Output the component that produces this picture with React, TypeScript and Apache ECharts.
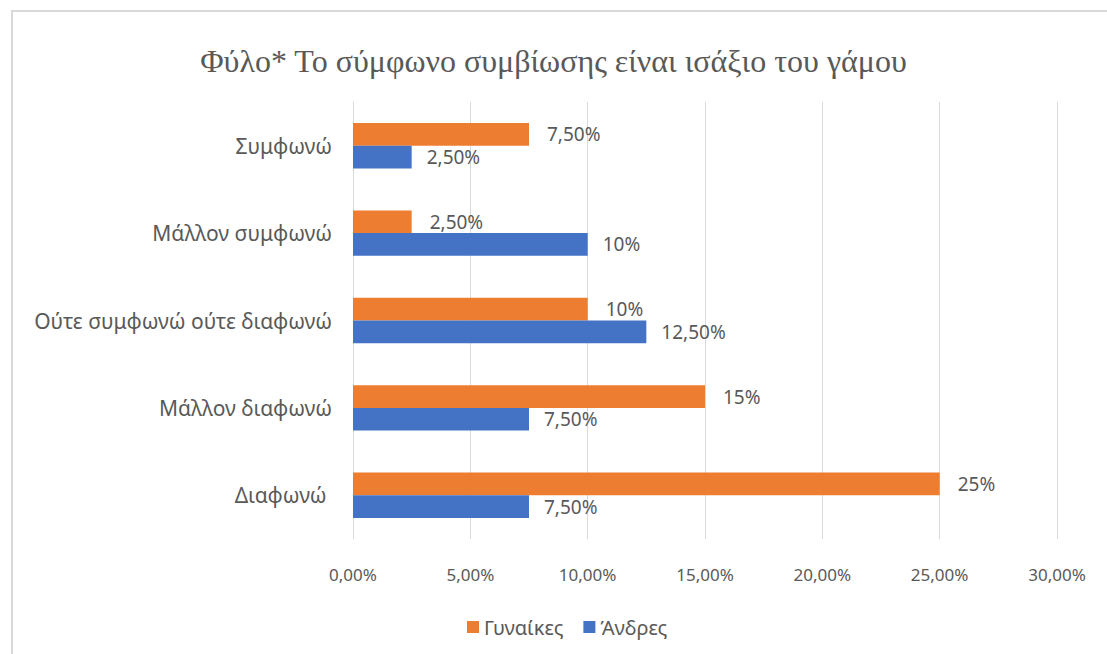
import React, { useEffect, useRef } from "react";
import * as echarts from "echarts";

const categories = ["Συμφωνώ", "Μάλλον συμφωνώ", "Ούτε συμφωνώ ούτε διαφωνώ", "Μάλλον διαφωνώ", "Διαφωνώ "];
const women = [7.5, 2.5, 10, 15, 25];
const men = [2.5, 10, 12.5, 7.5, 7.5];
const seriesNames = ["Γυναίκες", "Άνδρες"];
const title = "Φύλο* Το σύμφωνο συμβίωσης είναι ισάξιο του γάμου";

const fmtLabel = (v: number) =>
  Number.isInteger(v) ? `${v}%` : v.toFixed(2).replace(".", ",") + "%";
const fmtAxis = (v: number) => v.toFixed(2).replace(".", ",") + "%";

const textColor = "#595959";
const font = "'Noto Sans', 'Open Sans', sans-serif";

export default function App() {
  const ref = useRef<HTMLDivElement>(null);
  useEffect(() => {
    const chart = echarts.init(ref.current!, null, { renderer: "svg" });
    chart.setOption({
      animation: false,
      backgroundColor: "#ffffff",
      title: {
        text: title,
        left: "center",
        top: 40,
        textStyle: { fontFamily: "'Liberation Serif', 'DejaVu Serif', serif", fontSize: 32, fontWeight: "normal", color: textColor },
      },
      graphic: [
        {
          type: "rect",
          shape: { x: 12, y: 11, width: 1120, height: 680 },
          style: { fill: "none", stroke: "#d9d9d9", lineWidth: 2 },
          silent: true,
        },
      ],
      legend: {
        data: seriesNames,
        left: 462,
        top: 612,
        itemWidth: 12,
        itemHeight: 12,
        itemGap: 20,
        icon: "rect",
        textStyle: { fontFamily: font, fontSize: 20, color: textColor },
      },
      grid: { left: 353, right: 50, top: 102, bottom: 115, containLabel: false },
      xAxis: {
        type: "value",
        min: 0,
        max: 30,
        interval: 5,
        axisLine: { show: false },
        axisTick: { show: false },
        splitLine: { show: true, lineStyle: { color: "#d9d9d9", width: 1 } },
        axisLabel: { formatter: fmtAxis, fontFamily: font, fontSize: 17, color: textColor, margin: 27 },
      },
      yAxis: {
        type: "category",
        data: categories,
        inverse: true,
        axisLine: { show: true, lineStyle: { color: "#d9d9d9", width: 1 } },
        axisTick: { show: false },
        axisLabel: { fontFamily: font, fontSize: 21, color: textColor, margin: 21 },
      },
      series: [
        {
          name: seriesNames[0],
          type: "bar",
          data: women,
          itemStyle: { color: "#ED7D31" },
          barGap: "0%",
          barCategoryGap: "48%",
          label: { show: true, position: "right", distance: 18, formatter: (p: any) => fmtLabel(p.value), fontFamily: font, fontSize: 19, color: textColor },
        },
        {
          name: seriesNames[1],
          type: "bar",
          data: men,
          itemStyle: { color: "#4472C4" },
          barGap: "0%",
          barCategoryGap: "48%",
          label: { show: true, position: "right", distance: 15, formatter: (p: any) => fmtLabel(p.value), fontFamily: font, fontSize: 19, color: textColor },
        },
      ],
    });
    return () => chart.dispose();
  }, []);
  return <div ref={ref} style={{ position: "fixed", left: 0, top: 0, width: 1107, height: 654 }} />;
}
